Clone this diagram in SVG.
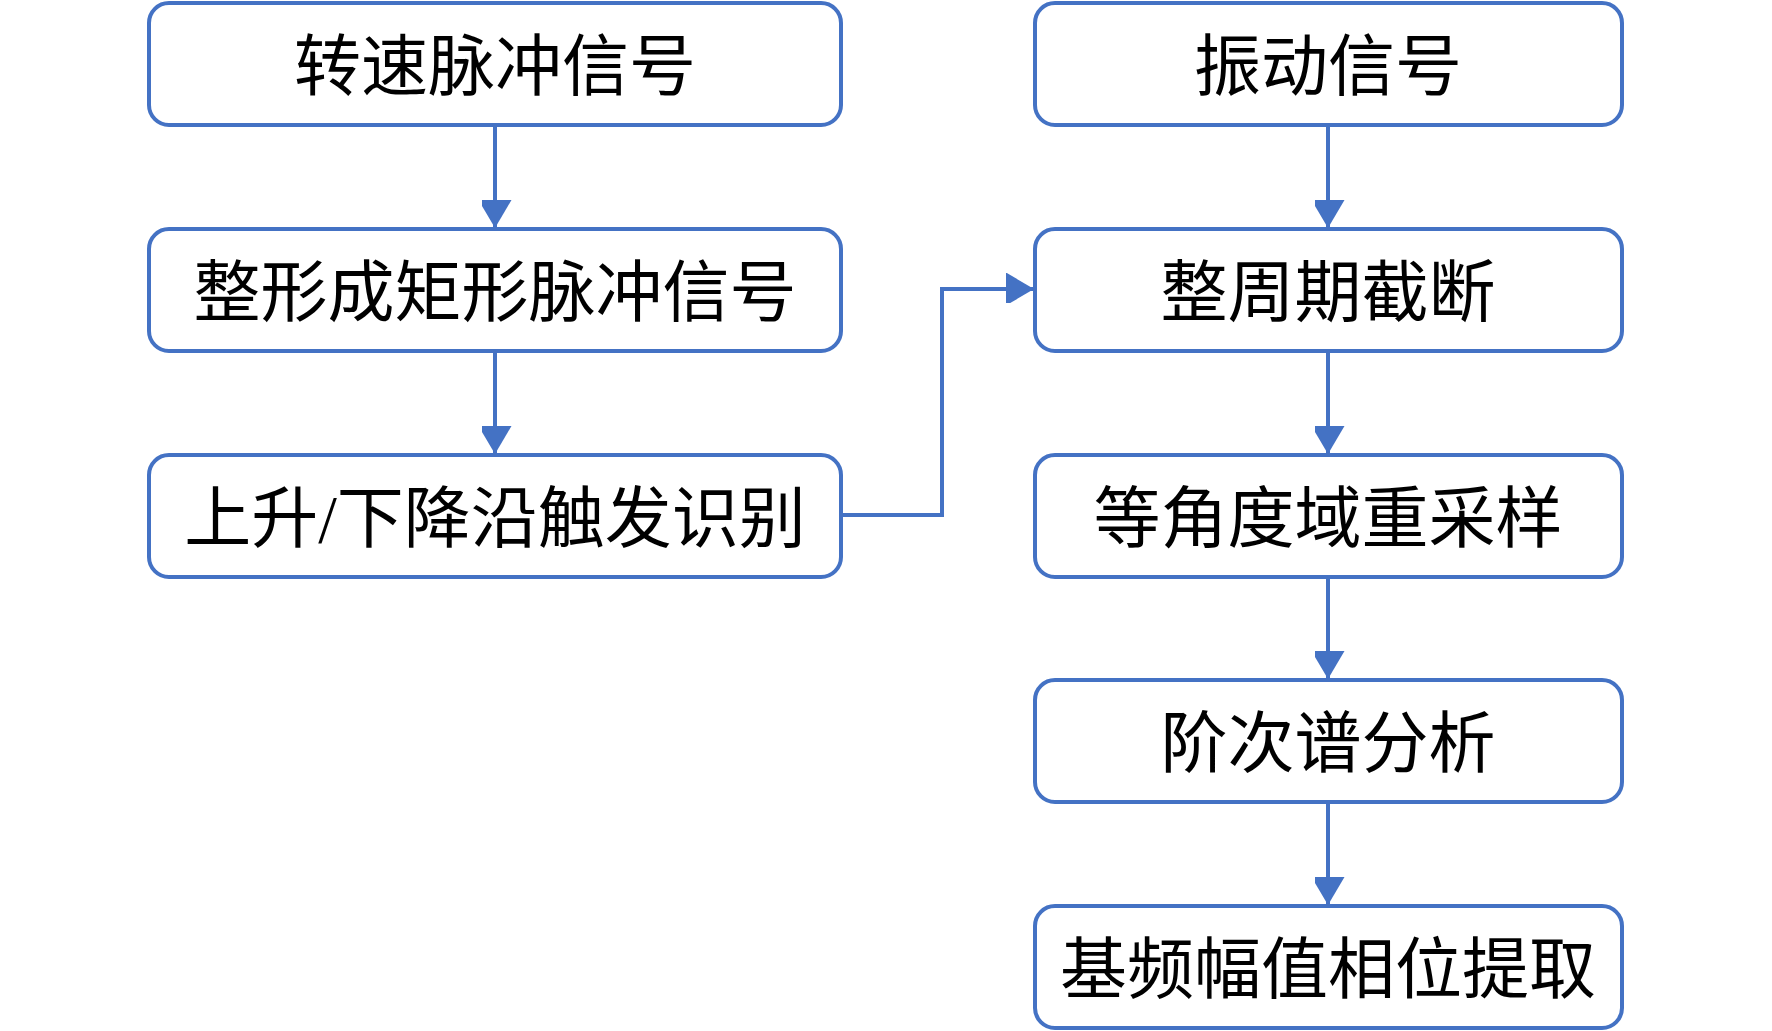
<svg xmlns="http://www.w3.org/2000/svg" width="1772" height="1031" viewBox="0 0 1772 1031">
<style>
.box{fill:#fff;stroke:#4472C4;stroke-width:4}
.t{font-family:"Liberation Serif","Noto Sans CJK SC",serif;font-size:67px;fill:#000;text-anchor:middle;dominant-baseline:central}
.c{fill:none;stroke:#4472C4;stroke-width:4}
</style>
<defs>
<marker id="ah" markerUnits="userSpaceOnUse" markerWidth="34" markerHeight="30" refX="28" refY="16.5" orient="auto">
<path d="M0,0 L28,16.5 L0,33 Z" fill="#4472C4"/>
</marker>
</defs>
<rect width="1772" height="1031" fill="#fff"/>
<g id="n1"><rect class="box" x="149" y="3" width="692" height="122" rx="20"/><text class="t" x="495" y="67">转速脉冲信号</text></g>
<g id="n2"><rect class="box" x="149" y="229" width="692" height="122" rx="20"/><text class="t" x="495" y="293">整形成矩形脉冲信号</text></g>
<g id="n3"><rect class="box" x="149" y="455" width="692" height="122" rx="20"/><text class="t" x="495" y="519">上升/下降沿触发识别</text></g>
<g id="n4"><rect class="box" x="1035" y="3" width="587" height="122" rx="20"/><text class="t" x="1328" y="67">振动信号</text></g>
<g id="n5"><rect class="box" x="1035" y="229" width="587" height="122" rx="20"/><text class="t" x="1328" y="293">整周期截断</text></g>
<g id="n6"><rect class="box" x="1035" y="455" width="587" height="122" rx="20"/><text class="t" x="1328" y="519">等角度域重采样</text></g>
<g id="n7"><rect class="box" x="1035" y="680" width="587" height="122" rx="20"/><text class="t" x="1328" y="744">阶次谱分析</text></g>
<g id="n8"><rect class="box" x="1035" y="906" width="587" height="122" rx="20"/><text class="t" x="1328" y="970">基频幅值相位提取</text></g>
<g id="connectors">
<line class="c" x1="495" y1="125" x2="495" y2="228" marker-end="url(#ah)"/>
<line class="c" x1="495" y1="351" x2="495" y2="454" marker-end="url(#ah)"/>
<polyline class="c" points="841,515 942,515 942,289 1034,289" marker-end="url(#ah)"/>
<line class="c" x1="1328" y1="125" x2="1328" y2="228" marker-end="url(#ah)"/>
<line class="c" x1="1328" y1="351" x2="1328" y2="454" marker-end="url(#ah)"/>
<line class="c" x1="1328" y1="577" x2="1328" y2="679" marker-end="url(#ah)"/>
<line class="c" x1="1328" y1="802" x2="1328" y2="905" marker-end="url(#ah)"/>
</g>
</svg>
